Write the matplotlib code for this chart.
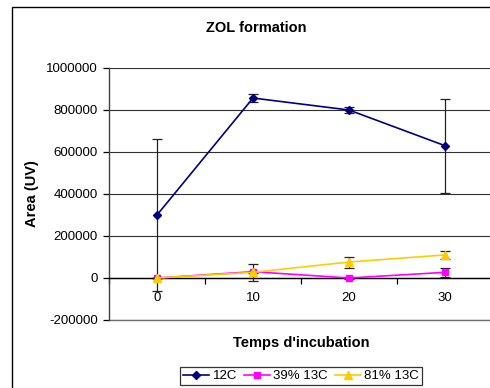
import numpy as np
import matplotlib
matplotlib.use("Agg")
import matplotlib.pyplot as plt
from matplotlib.patches import Rectangle
from matplotlib.lines import Line2D

plt.rcParams['font.family'] = ['Liberation Sans', 'DejaVu Sans']

# data
temps = ["0", "10", "20", "30"]
c12 = [300000, 857000, 800000, 630000]
c12_err = [362000, 20000, 15000, 223000]
c39 = [0, 30000, 0, 27000]
c39_err = [0, 5000, 3000, 21000]
c81 = [0, 27000, 76000, 110000]
c81_err = [0, 41000, 26000, 20000]

W, H = 490, 388
fig = plt.figure(figsize=(W / 100, H / 100), dpi=100)

# outer chart frame (cropped on right and bottom)
fig.patches.append(Rectangle((12 / W, -0.1), 1.2, 1 - 7 / H + 0.1,
                             transform=fig.transFigure, fill=False,
                             edgecolor='black', lw=1.0))

ax = fig.add_axes([109 / W, 1 - 320 / H, 384 / W, 252 / H])
x = np.arange(len(temps))

series = [
    ("12C", c12, c12_err, '#000080', 'D', 4),
    ("39% 13C", c39, c39_err, '#FF00FF', 's', 5),
    ("81% 13C", c81, c81_err, '#FFCC00', '^', 6),
]
handles = []
for i, (name, vals, err, col, mk, ms) in enumerate(series):
    ax.errorbar(x, vals, yerr=err, color=col, marker=mk, ms=ms, lw=1.2,
                ecolor='#222222', elinewidth=0.9, capsize=3.5, capthick=0.9,
                zorder=3 + i)
    handles.append(Line2D([], [], color=col, marker=mk, ms=ms, lw=1.2, label=name))

ax.set_xlim(-0.5, len(temps) - 0.5)
ax.set_ylim(-200000, 1000000)
ax.set_yticks(np.arange(-200000, 1000001, 200000))
ax.set_yticklabels([str(v) for v in range(-200000, 1000001, 200000)])
ax.yaxis.grid(True, color='#303030', lw=0.8)
ax.axhline(-200000, color='#707070', lw=1.0, clip_on=False)
ax.set_axisbelow(True)

ax.set_xticks(np.arange(-0.5, len(temps), 1.0))
ax.set_xticklabels([])
ax.set_xticks(x, minor=True)
ax.set_xticklabels(temps, minor=True)
ax.tick_params(axis='x', which='major', direction='out', length=4, width=0.9)
ax.tick_params(axis='x', which='minor', length=0, pad=10, labelsize=9.5)
ax.tick_params(axis='y', direction='out', length=4, width=0.9, pad=4, labelsize=9.5)

ax.spines['bottom'].set_position(('data', 0))
ax.spines['bottom'].set_linewidth(1.0)
ax.spines['left'].set_color('#404040')
ax.spines['left'].set_linewidth(1.0)
ax.spines['top'].set_visible(False)
ax.spines['right'].set_visible(False)

fig.text(256 / W, 1 - 28 / H, "ZOL formation", ha='center', va='center',
         fontsize=10.5, fontweight='bold')
fig.text(301 / W, 1 - 343 / H, "Temps d'incubation", ha='center', va='center',
         fontsize=10.5, fontweight='bold')
fig.text(32 / W, 1 - 194 / H, "Area (UV)", ha='center', va='center',
         rotation=90, fontsize=10.5, fontweight='bold')

leg = fig.legend(handles=handles, loc='center',
                 bbox_to_anchor=(301 / W, 1 - 376 / H), ncol=3,
                 fontsize=9.5, frameon=True, fancybox=False, handlelength=2.0,
                 handletextpad=0.25, columnspacing=0.5, borderpad=0.25,
                 borderaxespad=0)
leg.get_frame().set_edgecolor('black')
leg.get_frame().set_linewidth(0.9)

fig.savefig("out.png", dpi=100)
